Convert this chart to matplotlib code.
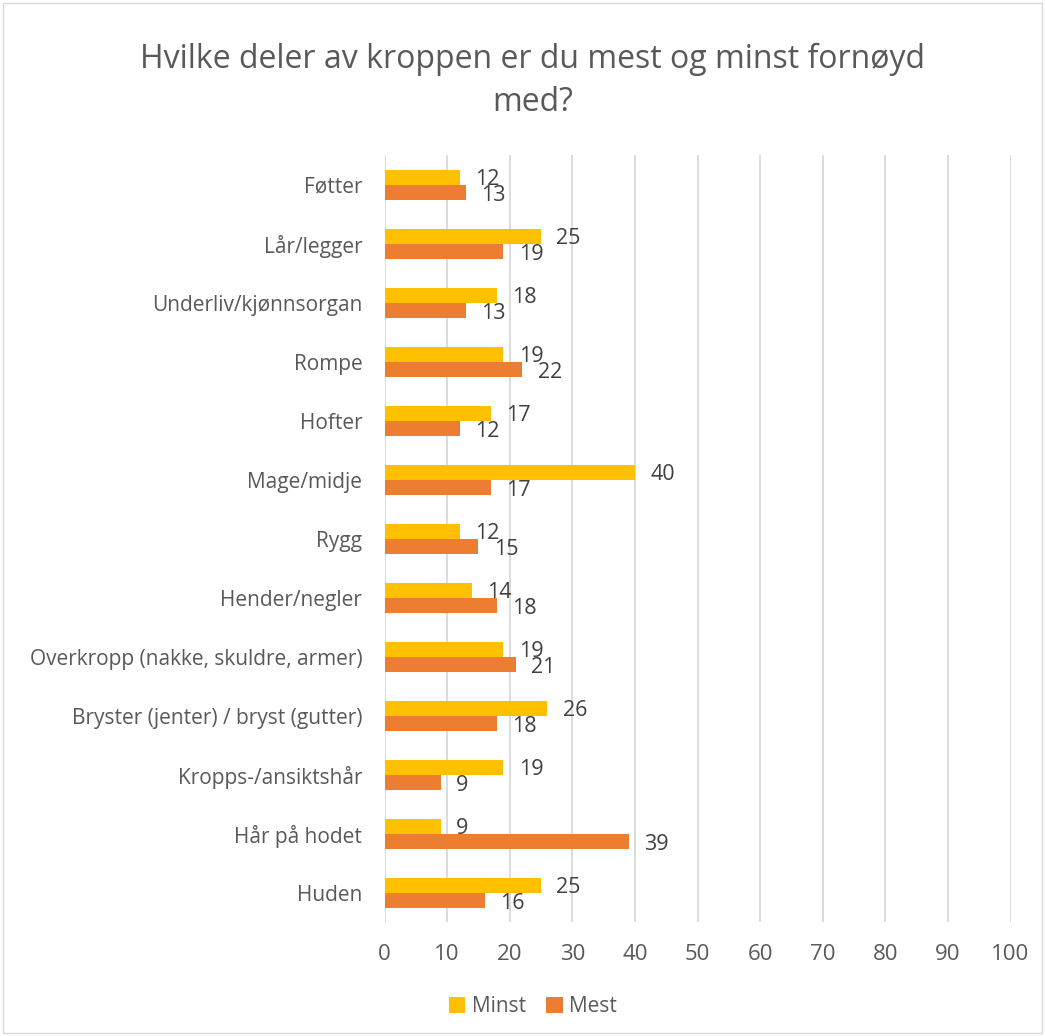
import numpy as np
import matplotlib.pyplot as plt
from matplotlib.patches import Rectangle

categories = ["Føtter", "Lår/legger", "Underliv/kjønnsorgan", "Rompe", "Hofter",
              "Mage/midje", "Rygg", "Hender/negler",
              "Overkropp (nakke, skuldre, armer)",
              "Bryster (jenter) / bryst (gutter)", "Kropps-/ansiktshår",
              "Hår på hodet", "Huden"]
minst = [12, 25, 18, 19, 17, 40, 12, 14, 19, 26, 19, 9, 25]
mest = [13, 19, 13, 22, 12, 17, 15, 18, 21, 18, 9, 39, 16]

yellow = "#FFC000"
orange = "#ED7D31"
txt = "#595959"

plt.rcParams['font.family'] = ['Open Sans', 'DejaVu Sans']

fig = plt.figure(figsize=(10.45, 10.36), dpi=100)
ax = fig.add_axes([0.368, 0.11, 0.599, 0.74])

y = np.arange(len(categories))
h = 0.254
ax.barh(y - h/2, minst, height=h, color=yellow, label="Minst", zorder=3)
ax.barh(y + h/2, mest, height=h, color=orange, label="Mest", zorder=3)

# data labels, a bit below bar centre like the original
for yi, v in zip(y, minst):
    ax.annotate(str(v), (v, yi - h/2 + 0.04), xytext=(11, 0), textcoords="offset points",
                va="center", ha="left", fontsize=15.5, color="#404040")
for yi, v in zip(y, mest):
    ax.annotate(str(v), (v, yi + h/2 + 0.06), xytext=(11, 0), textcoords="offset points",
                va="center", ha="left", fontsize=15.5, color="#404040")

ax.set_xlim(0, 100)
ax.set_ylim(len(categories) - 0.5, -0.5)
ax.set_xticks(np.arange(0, 101, 10))
ax.set_yticks(y)
ax.set_yticklabels(categories)
ax.tick_params(axis="x", length=0, labelsize=16, labelcolor=txt, pad=16)
ax.tick_params(axis="y", length=0, labelsize=15, labelcolor=txt, pad=16)
ax.grid(axis="x", color="#D9D9D9", linewidth=1.3, zorder=0)
for s in ax.spines.values():
    s.set_visible(False)

fig.text(0.51, 0.922, "Hvilke deler av kroppen er du mest og minst fornøyd\nmed?",
         ha="center", va="center", fontsize=23, color=txt, linespacing=1.4)

fig.legend(loc="lower center", bbox_to_anchor=(0.51, 0.0), ncol=2, frameon=False,
           fontsize=15, labelcolor=txt, handlelength=0.8, handleheight=0.8,
           columnspacing=1.0, handletextpad=0.3)

fig.patches.append(Rectangle((0.003, 0.003), 0.994, 0.994, transform=fig.transFigure,
                             fill=False, edgecolor="#D9D9D9", linewidth=1))

fig.savefig("out.png", dpi=100)
